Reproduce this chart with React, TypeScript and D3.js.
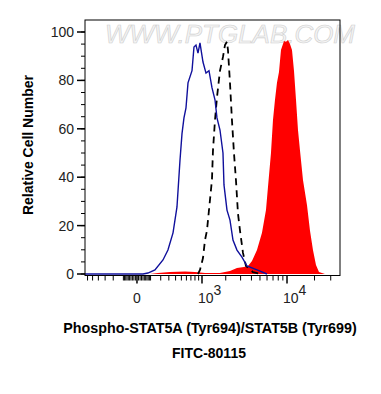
import React from "react";
import * as d3 from "d3";

// Blue (control) histogram: [intensity, % of max]
const blueX = [-655, -300, 0, 40, 78, 140, 226, 288, 360, 423, 475, 512, 550, 591, 634, 726, 775, 827, 882, 939, 1031, 1130, 1236, 1350, 1474, 1561, 1701, 1851, 1904, 2070, 2249, 2441, 2721, 3112, 3556, 4623, 5993];
const blueY = [0, 0, 0, 0, 0.4, 1.7, 5.8, 9.9, 17, 27.7, 47, 58, 64.5, 68.6, 79, 84, 93.8, 94.6, 91.3, 95.5, 87.6, 83, 84, 77, 72, 64.5, 59.5, 50, 36.8, 26.4, 22.3, 14, 9.9, 7, 3.3, 1.7, 0];

// Dashed (isotype) histogram
const dashX = [882, 939, 1031, 1096, 1164, 1273, 1350, 1390, 1474, 1561, 1701, 1851, 1958, 2070, 2127, 2249, 2374, 2508, 2647, 2795, 2950, 3197, 3463, 4165, 5000];
const dashY = [0, 1.7, 6.6, 14, 18, 30.6, 39, 51, 63.6, 73, 84, 89.7, 94.6, 96, 92.6, 79, 63.6, 50, 38.8, 25, 18, 8.7, 3.3, 0.8, 0];

// Red (stained) histogram
const redX = [95, 170, 316, 570, 801, 1096, 1701, 2249, 2721, 3285, 3653, 4058, 4623, 5267, 5840, 6149, 6642, 6993, 7362, 7745, 8153, 8578, 9263, 9745, 10255, 10785, 11347, 11935, 12555, 13203, 13888, 14973, 16555, 17845, 19240, 20753, 22368, 25975];
const redY = [0, 0.4, 0.8, 1, 0.8, 0.4, 0.4, 1.2, 2.5, 2.9, 3.3, 5.4, 9.9, 17, 26.4, 36, 50, 63.6, 72, 79, 83.5, 92.6, 96.3, 96, 96.7, 95, 92.6, 84, 72, 59.5, 51, 38.8, 28.5, 18, 9.9, 3.7, 0.8, 0];

const yTicks = [0, 20, 40, 60, 80, 100];
const yMinorTicks = d3.range(0, 105, 5);
const xMajorTicks = [
  { v: 0, base: "0", exp: "" },
  { v: 1000, base: "10", exp: "3" },
  { v: 10000, base: "10", exp: "4" },
];
const xMinorTicks = [
  -600, -500, -400, -300, -200, -100, -90, -80, -70, -60, -50, -40, -30, -20, -10,
  10, 20, 30, 40, 50, 60, 70, 80, 90, 100, 200, 300, 400, 500, 600, 700, 800, 900,
  2000, 3000, 4000, 5000, 6000, 7000, 8000, 9000, 20000, 30000,
];

const xTitle = "Phospho-STAT5A (Tyr694)/STAT5B (Tyr699)";
const xSubTitle = "FITC-80115";
const yTitle = "Relative Cell Number";
const watermark = "WWW.PTGLAB.COM";

export default function App() {
  const W = 381, H = 394;
  const left = 85, right = 340, top = 20, bottom = 275.5;
  const x = d3.scaleSymlog().constant(250).domain([-655, 37800]).range([left, right]);
  const y = d3.scaleLinear().domain([0, 100]).range([274, 32]);

  const toPts = (xs: number[], ys: number[]) => xs.map((v, i) => [v, ys[i]] as [number, number]);
  const line = d3.line<[number, number]>().x(d => x(d[0])).y(d => y(d[1]));
  const area = d3.area<[number, number]>().x(d => x(d[0])).y0(y(0)).y1(d => y(d[1]));

  const font = "'Liberation Sans', Arial, sans-serif";

  return (
    <svg width={W} height={H} style={{ position: "absolute", left: 0, top: 0, background: "#fff" }} fontFamily={font}>
      <defs>
        <clipPath id="plotclip">
          <rect x={left} y={top} width={right - left} height={bottom - top} />
        </clipPath>
      </defs>
      <text x={230} y={43} textAnchor="middle" fontSize={25} fontStyle="italic" fill="#f4f4f4" stroke="#cfcfcf" strokeWidth={0.6} textLength={250} lengthAdjust="spacingAndGlyphs">
        {watermark}
      </text>
      <g clipPath="url(#plotclip)">
        <path d={area(toPts(redX, redY)) || ""} fill="#ff0000" />
        <path d={line(toPts(dashX, dashY)) || ""} fill="none" stroke="#000" strokeWidth={1.8} strokeDasharray="7,5" />
        <path d={line(toPts(blueX, blueY)) || ""} fill="none" stroke="#10109c" strokeWidth={1.4} />
      </g>
      <rect x={left} y={top} width={right - left} height={bottom - top} fill="none" stroke="#000" strokeWidth={1} />
      {/* y axis */}
      {yMinorTicks.map(t => (
        <line key={"ym" + t} x1={left - 4} x2={left} y1={y(t)} y2={y(t)} stroke="#000" strokeWidth={1} />
      ))}
      {yTicks.map(t => (
        <g key={"y" + t}>
          <line x1={left - 8} x2={left} y1={y(t)} y2={y(t)} stroke="#000" strokeWidth={1.5} />
          <text x={74} y={y(t) + 5} textAnchor="end" fontSize={14} fill="#222">{t}</text>
        </g>
      ))}
      {/* x axis */}
      {xMinorTicks.map(t => (
        <line key={"xm" + t} x1={x(t)} x2={x(t)} y1={bottom} y2={bottom + 5} stroke="#000" strokeWidth={1} />
      ))}
      {xMajorTicks.map(t => (
        <g key={"x" + t.v}>
          <line x1={x(t.v)} x2={x(t.v)} y1={bottom} y2={bottom + 8} stroke="#000" strokeWidth={1.5} />
          {t.exp === "" ? (
            <text x={x(t.v)} y={303} textAnchor="middle" fontSize={14} fill="#222">{t.base}</text>
          ) : (
            <text x={x(t.v) - 4} y={303} fontSize={14} fill="#222">
              {t.base}
              <tspan dy={-8} fontSize={14}>{t.exp}</tspan>
            </text>
          )}
        </g>
      ))}
      <text transform={`translate(33,145) rotate(-90)`} textAnchor="middle" fontSize={14} fontWeight="bold" fill="#000">{yTitle}</text>
      <text x={210} y={333} textAnchor="middle" fontSize={14.3} fontWeight="bold" fill="#000">{xTitle}</text>
      <text x={209} y={358} textAnchor="middle" fontSize={14} fontWeight="bold" fill="#000">{xSubTitle}</text>
    </svg>
  );
}
